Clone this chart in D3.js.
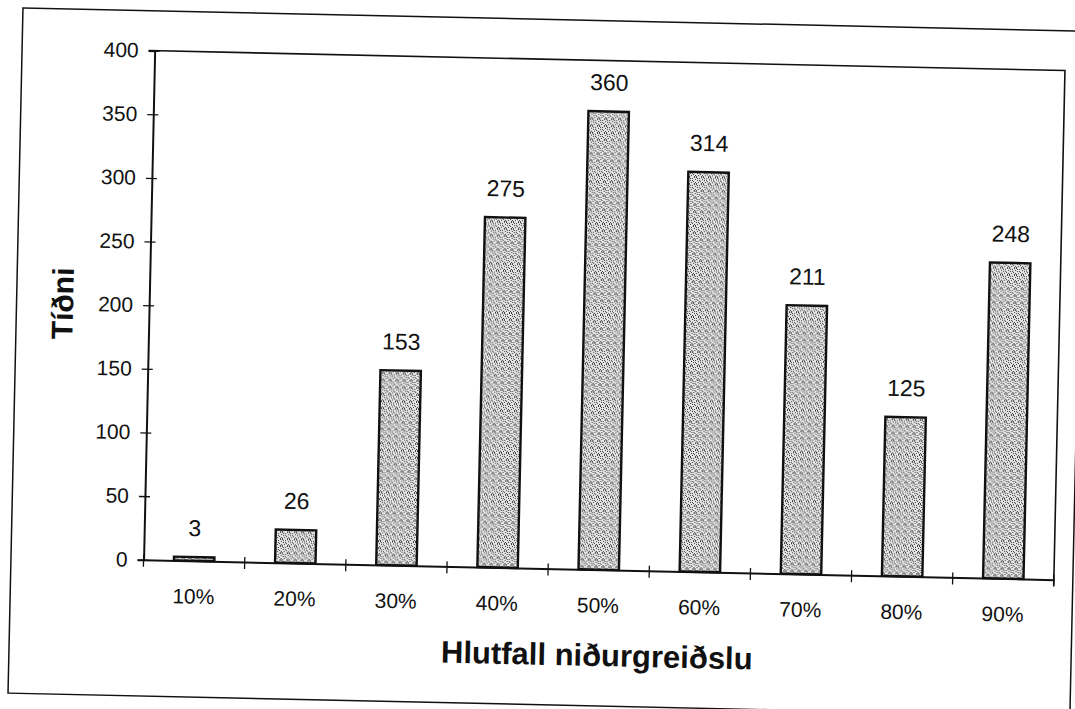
<!DOCTYPE html>
<html>
<head>
<meta charset="utf-8">
<script src="https://cdn.jsdelivr.net/npm/d3@7"></script>
<style>
  html, body { margin: 0; padding: 0; background: #fff; }
  svg { display: block; }
  text { font-family: "Liberation Sans", Arial, sans-serif; fill: #111; }
</style>
</head>
<body>
<svg id="chart" width="1075" height="709"></svg>
<script>
// values
const categories = ['10%', '20%', '30%', '40%', '50%', '60%', '70%', '80%', '90%'];
const counts = [3, 26, 153, 275, 360, 314, 211, 125, 248];
const yTicks = [0, 50, 100, 150, 200, 250, 300, 350, 400];
const xTitle = 'Hlutfall niðurgreiðslu';
const yTitle = 'Tíðni';

const svg = d3.select('#chart');

// the scan is tilted a little, so the whole drawing is turned
const root = svg.append('g').attr('transform', 'rotate(1.25, 602, 315.5)');

const plot = { left: 149, right: 1059.5, top: 60.5, bottom: 569.7 };

// stipple fill for the bars
const defs = svg.append('defs');
const pat = defs.append('pattern')
  .attr('id', 'stipple')
  .attr('patternUnits', 'userSpaceOnUse')
  .attr('width', 7).attr('height', 7);
pat.append('rect').attr('width', 7).attr('height', 7).attr('fill', '#e6e6e6');
[[0, 0], [3, 1], [5, 0], [1, 3], [4, 4], [6, 2], [2, 5], [5, 6], [0, 6], [3, 3], [6, 5], [1, 1]]
  .forEach(([px, py]) => {
    pat.append('rect').attr('x', px).attr('y', py)
      .attr('width', 1).attr('height', 1).attr('fill', '#3a3a3a');
  });

// outer frame
root.append('rect')
  .attr('x', 16.4).attr('y', 20.7)
  .attr('width', 1078.5 - 16.4).attr('height', 706 - 20.7)
  .attr('fill', 'none').attr('stroke', '#111').attr('stroke-width', 1.5);

const x = d3.scaleBand()
  .domain(categories)
  .range([plot.left, plot.right])
  .paddingInner(0.6)
  .paddingOuter(0.3);

const y = d3.scaleLinear()
  .domain([0, 400])
  .range([plot.bottom, plot.top]);

// plot box (top and right edges)
root.append('path')
  .attr('d', `M${plot.left - 6},${plot.top}H${plot.right}V${plot.bottom + 6}`)
  .attr('fill', 'none').attr('stroke', '#111').attr('stroke-width', 1.6);

// bars
root.selectAll('.bar')
  .data(counts)
  .join('rect')
  .attr('class', 'bar')
  .attr('x', (d, i) => x(categories[i]))
  .attr('y', d => y(d))
  .attr('width', x.bandwidth())
  .attr('height', d => y(0) - y(d))
  .attr('fill', 'url(#stipple)')
  .attr('stroke', '#111')
  .attr('stroke-width', 2.4);

// value labels
root.selectAll('.value')
  .data(counts)
  .join('text')
  .attr('class', 'value')
  .attr('x', (d, i) => x(categories[i]) + x.bandwidth() / 2)
  .attr('y', d => y(d) - 21)
  .attr('text-anchor', 'middle')
  .style('font-size', '23px')
  .text(d => d);

// y axis, ticks cross the line
const yAxis = root.append('g')
  .attr('transform', `translate(${plot.left},0)`)
  .call(d3.axisLeft(y).tickValues(yTicks).tickSize(6).tickPadding(10));
yAxis.select('.domain').attr('stroke', '#111').attr('stroke-width', 2);
yAxis.selectAll('.tick line').attr('x1', 5).attr('stroke', '#111').attr('stroke-width', 1.3);
yAxis.selectAll('.tick text')
  .style('font-size', '21px')
  .style('font-family', '"Liberation Sans", Arial, sans-serif')
  .attr('fill', '#111');

// x axis: line plus ticks at category boundaries
const xAxis = root.append('g')
  .attr('transform', `translate(0,${plot.bottom})`)
  .call(d3.axisBottom(x).tickSize(0).tickPadding(28));
xAxis.select('.domain').attr('stroke', '#111').attr('stroke-width', 2);
xAxis.selectAll('.tick text')
  .style('font-size', '21px')
  .style('font-family', '"Liberation Sans", Arial, sans-serif')
  .attr('fill', '#111');

const bounds = d3.range(categories.length + 1)
  .map(i => plot.left + i * x.step());
xAxis.selectAll('.bound')
  .data(bounds)
  .join('line')
  .attr('class', 'bound')
  .attr('x1', d => d).attr('x2', d => d)
  .attr('y1', -5).attr('y2', 7)
  .attr('stroke', '#111').attr('stroke-width', 1.3);

// axis titles
root.append('text')
  .attr('x', (plot.left + plot.right) / 2)
  .attr('y', 666)
  .attr('text-anchor', 'middle')
  .style('font-size', '31px')
  .style('font-weight', 'bold')
  .text(xTitle);

root.append('text')
  .attr('transform', `translate(73,${(plot.top + plot.bottom) / 2}) rotate(-90)`)
  .attr('text-anchor', 'middle')
  .style('font-size', '30px')
  .style('font-weight', 'bold')
  .text(yTitle);
</script>
</body>
</html>
